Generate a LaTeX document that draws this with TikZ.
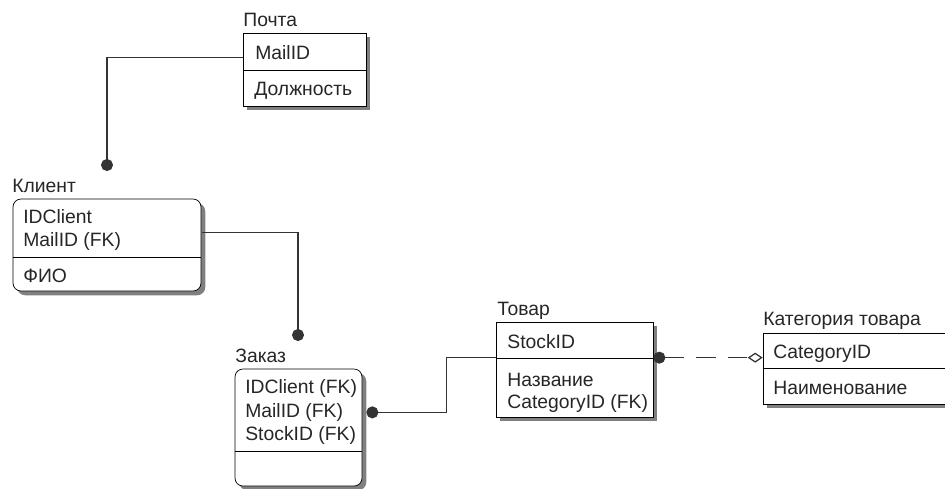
\documentclass[tikz,border=0pt]{standalone}
\usepackage{fontspec}
\setmainfont{Liberation Sans}
\usetikzlibrary{arrows.meta,fit,shadows}

\begin{document}
\begin{tikzpicture}[x=0.02cm, y=-0.02cm, every node/.style={font=\fontsize{11}{13}\selectfont, text=black!85},
	entity/.style={draw, fill=white, inner sep=0pt, thin, drop shadow={shadow xshift=0.085cm, shadow yshift=-0.085cm, fill=black!50, opacity=1}},
	depent/.style={entity, rounded corners=0.16cm},
	attr/.style={anchor=base west, inner sep=0pt},
	rel/.style={draw=black!80, line width=0.7pt},
	dotend/.style={-{Circle[length=0.24cm]}},
	nonid/.style={{Circle[length=0.24cm]}-{Diamond[open, length=0.3cm, width=0.2cm, fill=white]}, dash pattern=on 11pt off 7pt}]
	\useasboundingbox (0,0) rectangle (945,488);
	% entities
	\node[entity, fit={(243,33) (366,106)}] (pochta) {};
	\node[depent, fit={(13,199) (201,291)}] (klient) {};
	\node[depent, fit={(235,369) (362,486)}] (zakaz) {};
	\node[entity, fit={(496,322) (653,417)}] (tovar) {};
	\node[entity, fit={(763,333) (955,404)}] (kategoriya) {};
	% key / non-key dividers
	\draw (pochta.north west) ++(0,38) coordinate (pochtaDiv) -- (pochtaDiv -| pochta.east);
	\draw (klient.north west) ++(0,59) coordinate (klientDiv) -- (klientDiv -| klient.east);
	\draw (zakaz.north west) ++(0,83) coordinate (zakazDiv) -- (zakazDiv -| zakaz.east);
	\draw (tovar.north west) ++(0,37) coordinate (tovarDiv) -- (tovarDiv -| tovar.east);
	\draw (kategoriya.north west) ++(0,36) coordinate (kategoriyaDiv) -- (kategoriyaDiv -| kategoriya.east);
	% titles
	\node[attr] (pochtaT) at (243,26) {Почта};
	\node[attr] (klientT) at (12,192) {Клиент};
	\node[attr] (zakazT) at (235,362) {Заказ};
	\node[attr] (tovarT) at (497,315) {Товар};
	\node[attr] (kategoriyaT) at (763,325) {Категория товара};
	% attributes
	\node[attr] (pochta1) at (255,59) {MailID};
	\node[attr] (pochta2) at (254,95) {Должность};
	\node[attr] (klient1) at (23,223) {IDClient};
	\node[attr] (klient2) at (23,246) {MailID (FK)};
	\node[attr] (klient3) at (23,282) {ФИО};
	\node[attr] (zakaz1) at (245,393) {IDClient (FK)};
	\node[attr] (zakaz2) at (245,417) {MailID (FK)};
	\node[attr] (zakaz3) at (245,440) {StockID (FK)};
	\node[attr] (tovar1) at (507,348) {StockID};
	\node[attr] (tovar2) at (507,386) {Название};
	\node[attr] (tovar3) at (507,408) {CategoryID (FK)};
	\node[attr] (kategoriya1) at (773,358) {CategoryID};
	\node[attr] (kategoriya2) at (773,394) {Наименование};
	% relationships
	\coordinate (klientIn) at (107,171);
	\coordinate (zakazIn) at (298,341);
	\draw[rel, dotend] (pochta.north west) ++(0,25) -| (klientIn);
	\draw[rel, dotend] (klient.north east) ++(1,34) -| (zakazIn);
	\draw[rel, dotend] (tovar.north west) ++(0,36) -- ++(-49,0) |- ([xshift=0.08cm]zakaz.east |- zakaz2.mid);
	\draw[rel, nonid] (tovar.north east) ++(0,36) coordinate (tovarOut) -- (tovarOut -| kategoriya.west);
\end{tikzpicture}
\end{document}
